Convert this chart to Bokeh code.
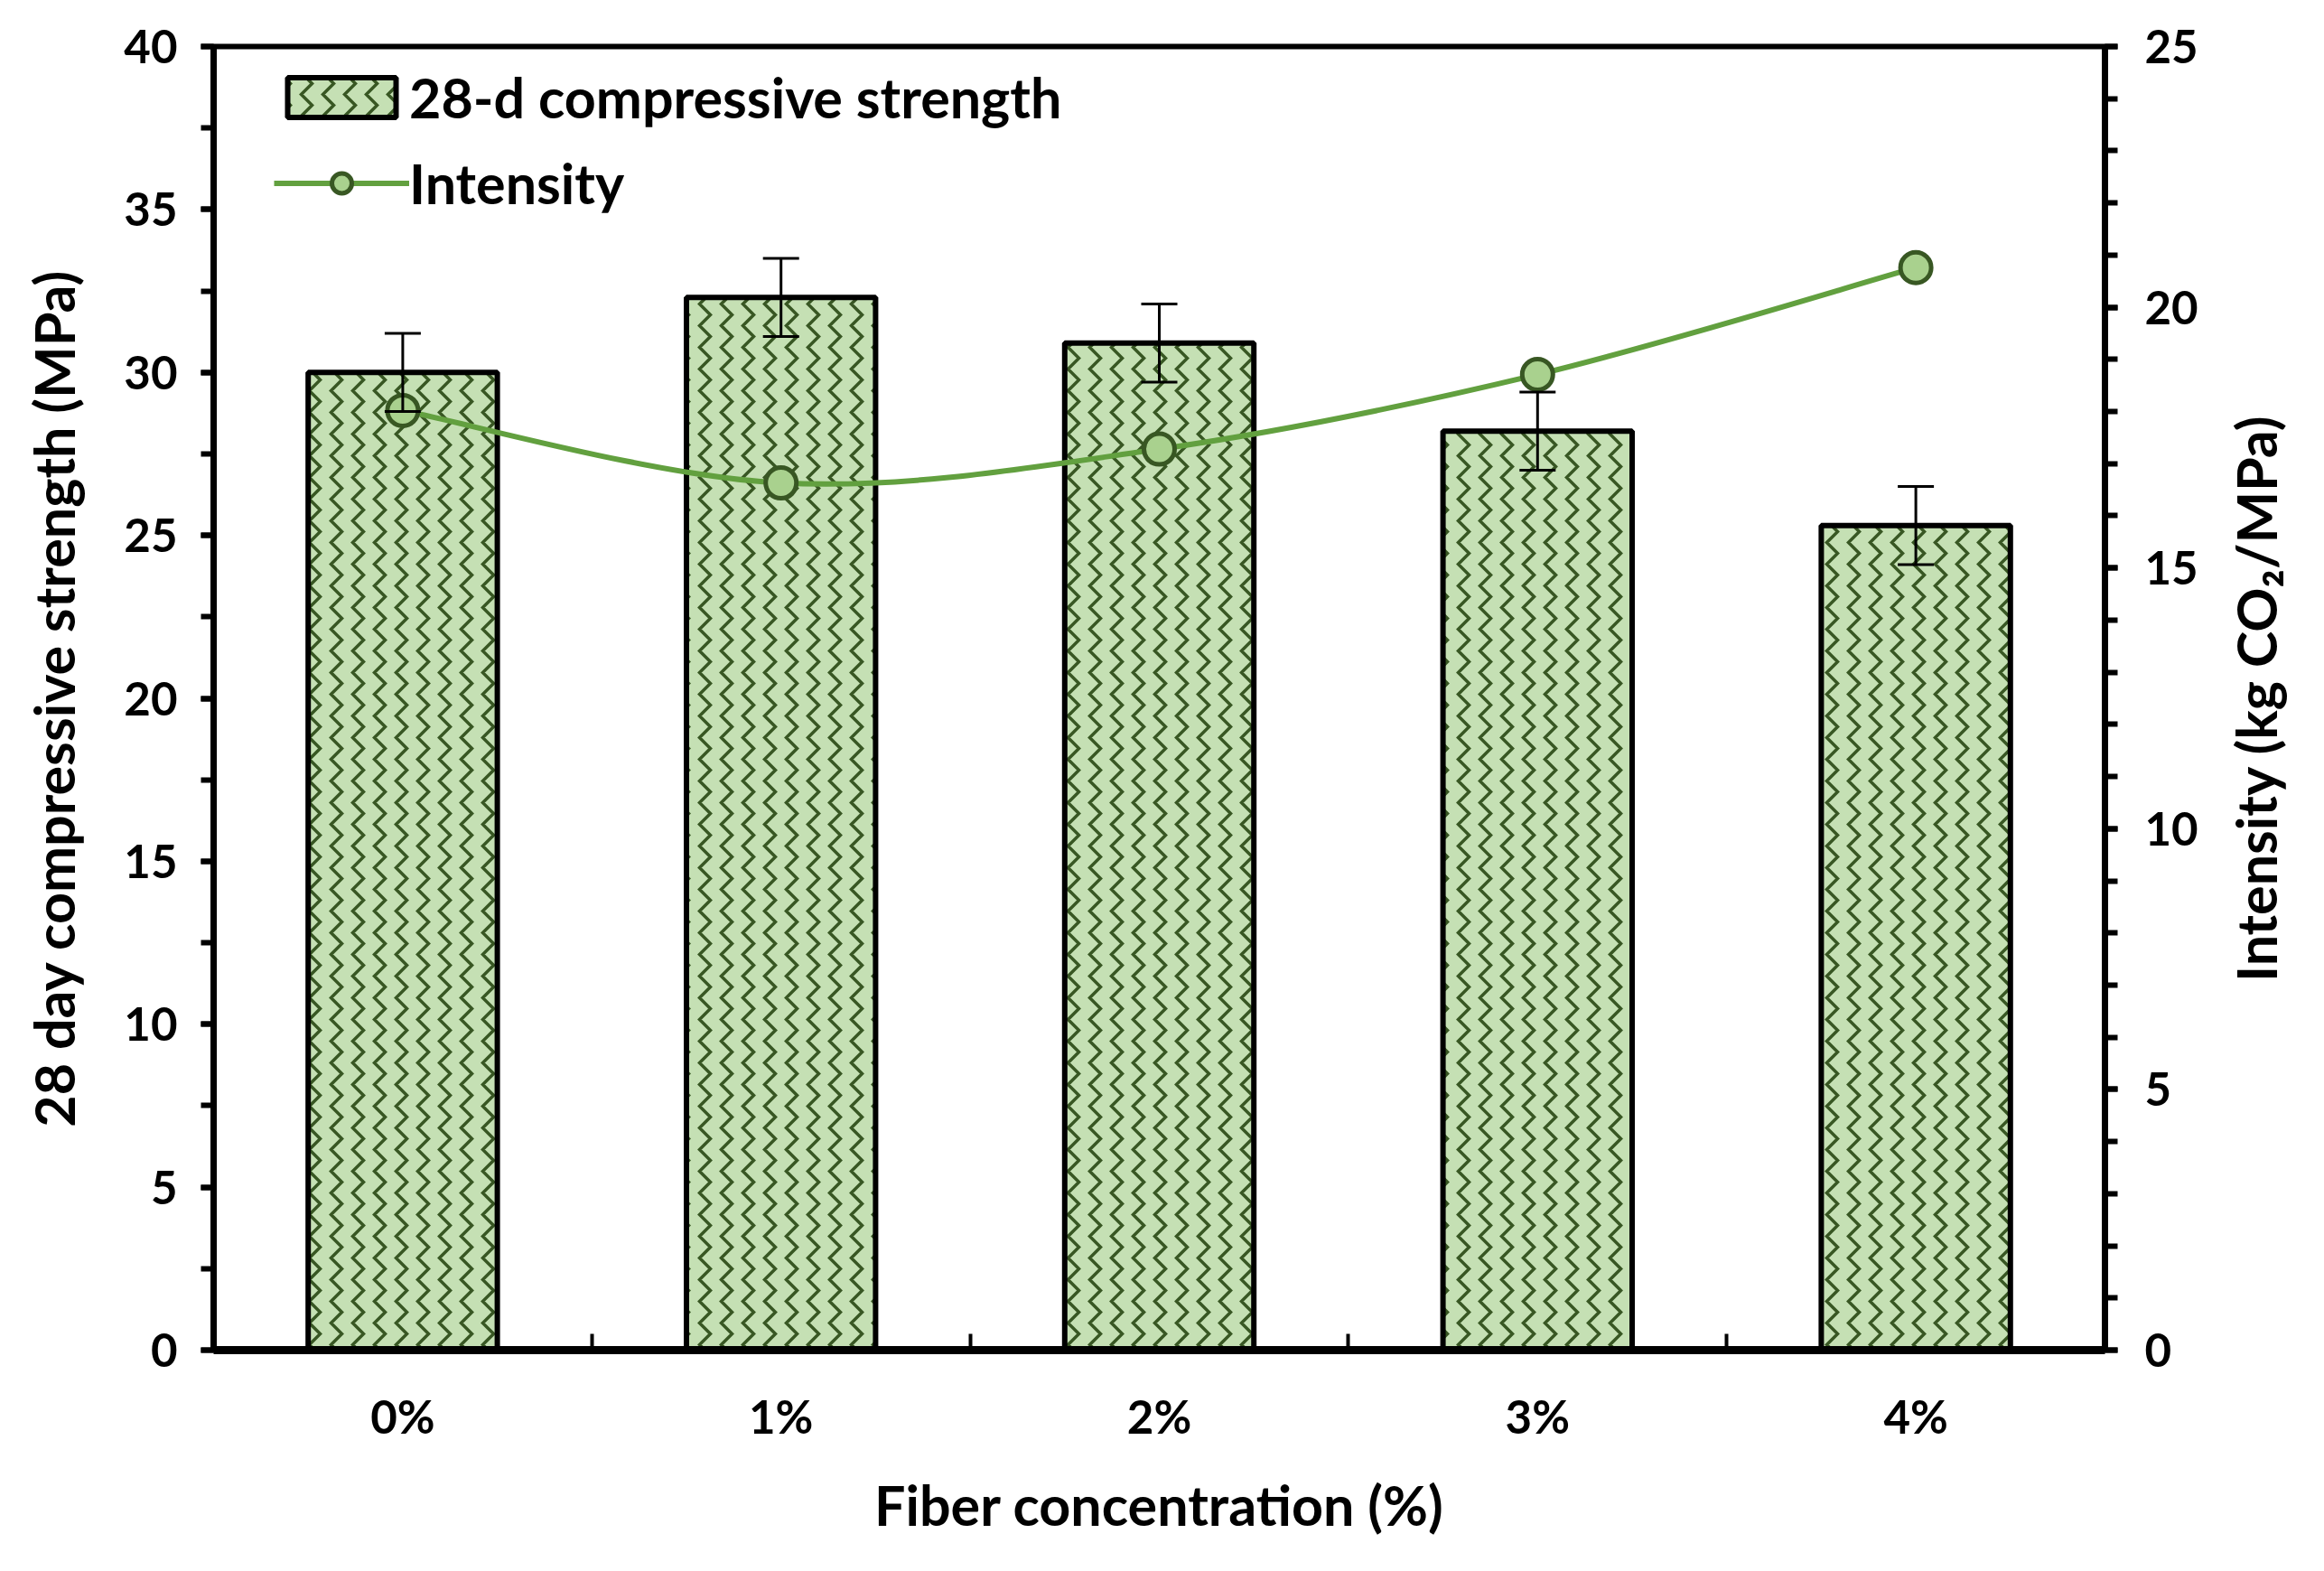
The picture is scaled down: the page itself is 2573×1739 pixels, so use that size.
from bokeh.plotting import figure
from bokeh.layouts import row
from bokeh.models import (Range1d, LinearAxis, FixedTicker, SingleIntervalTicker,
                          ColumnDataSource, Whisker, TeeHead, Legend, LegendItem)
from bokeh.embed import file_html
from bokeh.resources import INLINE

# ---------------- data ----------------
categories = ["0%", "1%", "2%", "3%", "4%"]
strength = [30.0, 32.3, 30.9, 28.2, 25.3]
strength_err = [1.2, 1.2, 1.2, 1.2, 1.2]
intensity = [18.02, 16.63, 17.28, 18.71, 20.76]

left_title = "28 day compressive strength (MPa)"
right_title = "Intensity (kg CO\u2082/MPa)"
bottom_title = "Fiber concentration (%)"

FONT = "Lato"
W, H = 2557, 1723
WQ = 100                 # narrow strip that carries the right-hand title
WP = W - WQ
B_TOP, B_BOTTOM = 51, 229

xs = list(range(len(categories)))

p = figure(width=WP, height=H, output_backend="svg", toolbar_location=None,
           x_range=Range1d(-0.5, len(categories) - 0.5), y_range=Range1d(0, 40),
           min_border_left=236, min_border_right=WP - 2330,
           min_border_top=B_TOP, min_border_bottom=B_BOTTOM)
p.extra_y_ranges = {"int": Range1d(0, 25)}
p.xgrid.visible = False
p.ygrid.visible = False
p.outline_line_color = "black"
p.outline_line_width = 6
p.background_fill_color = "white"
p.border_fill_color = "white"

# bars
src = ColumnDataSource(dict(x=xs, y=strength,
                            up=[s + e for s, e in zip(strength, strength_err)],
                            lo=[s - e for s, e in zip(strength, strength_err)]))
bars = p.vbar(x="x", top="y", width=0.5, source=src, fill_color="#c5e0b4",
              line_color="black", line_width=6,
              hatch_pattern="vertical_wave", hatch_color="#385723",
              hatch_scale=24, hatch_weight=3.5)

# error bars
wh = Whisker(source=src, base="x", upper="up", lower="lo", line_color="black", line_width=3,
             upper_head=TeeHead(size=40, line_width=3, line_color="black"),
             lower_head=TeeHead(size=40, line_width=3, line_color="black"))
wh.level = "glyph"
p.add_layout(wh)

# smoothed intensity line (Bezier segments with Catmull-Rom control points from data)
n = len(intensity)
pts = list(zip(xs, intensity))
x0s, y0s, x1s, y1s, cx0, cy0, cx1, cy1 = [], [], [], [], [], [], [], []
for i in range(n - 1):
    pm = pts[i - 1] if i > 0 else pts[i]
    p0 = pts[i]
    p1 = pts[i + 1]
    p2 = pts[i + 2] if i + 2 < n else pts[i + 1]
    x0s.append(p0[0]); y0s.append(p0[1]); x1s.append(p1[0]); y1s.append(p1[1])
    cx0.append(p0[0] + (p1[0] - pm[0]) / 6); cy0.append(p0[1] + (p1[1] - pm[1]) / 6)
    cx1.append(p1[0] - (p2[0] - p0[0]) / 6); cy1.append(p1[1] - (p2[1] - p0[1]) / 6)
LINE_C = "#62a03f"
curve = p.bezier(x0=x0s, y0=y0s, x1=x1s, y1=y1s, cx0=cx0, cy0=cy0, cx1=cx1, cy1=cy1,
                 line_color=LINE_C, line_width=6, y_range_name="int")
pts_r = p.scatter(x=xs, y=intensity, size=34, fill_color="#a9d18e", line_color="#385723",
                  line_width=5, y_range_name="int")

# ---------------- axes ----------------
xa = p.xaxis[0]
xa.ticker = FixedTicker(ticks=xs, minor_ticks=[0.5, 1.5, 2.5, 3.5])
xa.major_label_overrides = {i: c for i, c in enumerate(categories)}
xa.major_tick_line_color = None
xa.minor_tick_in = 18
xa.minor_tick_out = 0
xa.minor_tick_line_width = 4
xa.axis_line_width = 9
xa.major_label_standoff = 36
xa.axis_label = bottom_title
xa.axis_label_standoff = 28

ya = p.yaxis[0]
ya.ticker = SingleIntervalTicker(interval=5, num_minor_ticks=2)
ya.axis_line_width = 7
ya.major_tick_in = 0
ya.major_tick_out = 14
ya.minor_tick_in = 0
ya.minor_tick_out = 14
ya.major_tick_line_width = 6
ya.minor_tick_line_width = 6
ya.major_label_standoff = 26
ya.axis_label = left_title
ya.axis_label_standoff = 38

ra = LinearAxis(y_range_name="int", ticker=SingleIntervalTicker(interval=5, num_minor_ticks=5))
ra.axis_line_width = 7
ra.major_tick_in = 0
ra.major_tick_out = 14
ra.minor_tick_in = 0
ra.minor_tick_out = 14
ra.major_tick_line_width = 6
ra.minor_tick_line_width = 6
ra.major_label_standoff = 30
p.add_layout(ra, "right")

for ax in (xa, ya, ra):
    ax.axis_line_color = "black"
    ax.major_tick_line_color = "black" if ax is not xa else None
    ax.minor_tick_line_color = "black"
    ax.major_label_text_font = FONT
    ax.major_label_text_font_style = "bold"
    ax.major_label_text_font_size = "51px"
    ax.major_label_text_color = "black"
    ax.axis_label_text_font = FONT
    ax.axis_label_text_font_style = "bold"
    ax.axis_label_text_font_size = "61px"
    ax.axis_label_text_color = "black"

# ---------------- legend ----------------
legend = Legend(items=[LegendItem(label="28-d compressive strength", renderers=[bars]),
                       LegendItem(label="Intensity", renderers=[curve, pts_r])],
                location=(67, 1255))
legend.label_text_font = FONT
legend.label_text_font_style = "bold"
legend.label_text_font_size = "61px"
legend.label_text_color = "black"
legend.glyph_width = 150
legend.glyph_height = 55
legend.label_height = 55
legend.label_standoff = 0
legend.spacing = 22
legend.padding = 0
legend.margin = 0
legend.border_line_color = None
legend.background_fill_alpha = 0
p.add_layout(legend)

# ---------------- right-hand title strip (reads bottom-to-top) ----------------
q = figure(width=WQ, height=H, output_backend="svg", toolbar_location=None,
           x_range=Range1d(0, 1), y_range=Range1d(0, 1), x_axis_location=None,
           min_border_left=76, min_border_right=0,
           min_border_top=B_TOP, min_border_bottom=B_BOTTOM)
q.xgrid.visible = False
q.ygrid.visible = False
q.outline_line_color = None
q.background_fill_color = "white"
q.border_fill_color = "white"
qa = q.yaxis[0]
qa.ticker = FixedTicker(ticks=[])
qa.axis_line_color = None
qa.major_tick_line_color = None
qa.minor_tick_line_color = None
qa.major_label_text_font_size = "0px"
qa.axis_label = right_title
qa.axis_label_standoff = 0
qa.axis_label_text_font = FONT
qa.axis_label_text_font_style = "bold"
qa.axis_label_text_font_size = "61px"
qa.axis_label_text_color = "black"

layout = row(p, q)
open("out.html", "w").write(file_html(layout, INLINE))
